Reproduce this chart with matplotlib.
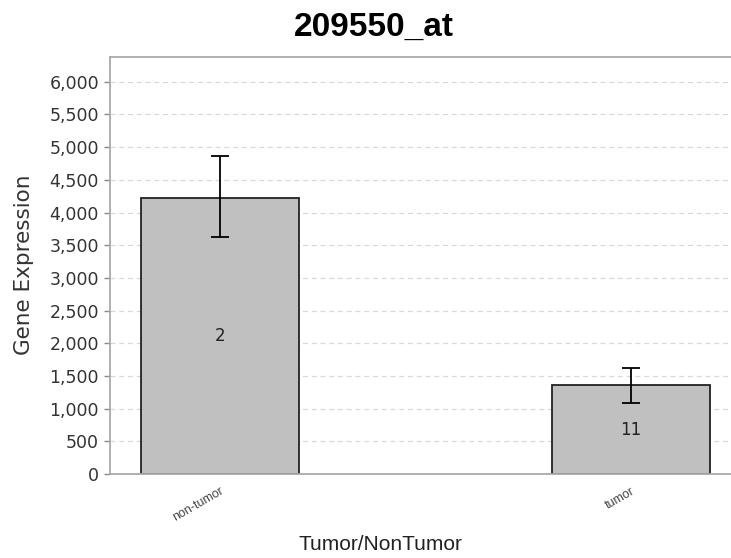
import matplotlib.pyplot as plt
import numpy as np

plt.rcParams['font.family'] = ['DejaVu Sans']

# data
groups = ['non-tumor', 'tumor']
means = [4230, 1360]
err_low = [610, 275]
err_high = [640, 255]
counts = [2, 11]
yticks = np.arange(0, 6001, 500)

fig = plt.figure(figsize=(7.31, 5.58), dpi=100, facecolor='white')
ax = fig.add_axes([0.1505, 0.1505, 0.8495, 0.748])

x = np.arange(len(groups))
ax.bar(x, means, width=0.385, color='#c0c0c0', edgecolor='#222222', linewidth=1.3, zorder=2)
ax.errorbar(x, means, yerr=[err_low, err_high], fmt='none', ecolor='black',
            elinewidth=1.3, capsize=6.5, capthick=1.3, zorder=3)

# sample counts in the middle of each bar
for xi, m, n in zip(x, means, counts):
    ax.text(xi, m / 2, str(n), ha='center', va='center', fontsize=12, color='#222222', zorder=4)

ax.set_xlim(-0.268, 1.243)
ax.set_ylim(0, 6385)
ax.set_yticks(yticks)
ax.set_yticklabels([f'{v:,}' for v in yticks], fontsize=12.5, color='#333333')
ax.yaxis.grid(True, linestyle=(0, (4, 3)), color='#d8d8d8', linewidth=0.9, zorder=0)
ax.set_axisbelow(True)

ax.set_xticks(x)
ax.set_xticklabels(groups, rotation=30, fontsize=9, color='#444444',
                   ha='right', va='top', rotation_mode='anchor',
                   family=['Liberation Sans', 'DejaVu Sans'])
ax.tick_params(axis='x', length=0, pad=8)
ax.tick_params(axis='y', length=4, color='#888888', width=1, pad=4)

for s in ['left', 'top', 'bottom']:
    ax.spines[s].set_color('#aaaaaa')
    ax.spines[s].set_linewidth(1.3)
ax.spines['right'].set_visible(False)

ax.set_xlabel('Tumor/NonTumor', fontsize=15, color='#222222',
              family=['Liberation Sans Narrow', 'Liberation Sans', 'DejaVu Sans'])
ax.xaxis.set_label_coords(0.436, -0.146)
ax.set_ylabel('Gene Expression', fontsize=15.5, color='#333333',
              family=['DejaVu Sans'])
ax.yaxis.set_label_coords(-0.122, 0.502)
fig.text(0.511, 0.951, '209550_at', ha='center', va='center', fontsize=24, fontweight='bold',
         family=['Liberation Sans', 'DejaVu Sans'])

fig.savefig('out.png', dpi=100)
